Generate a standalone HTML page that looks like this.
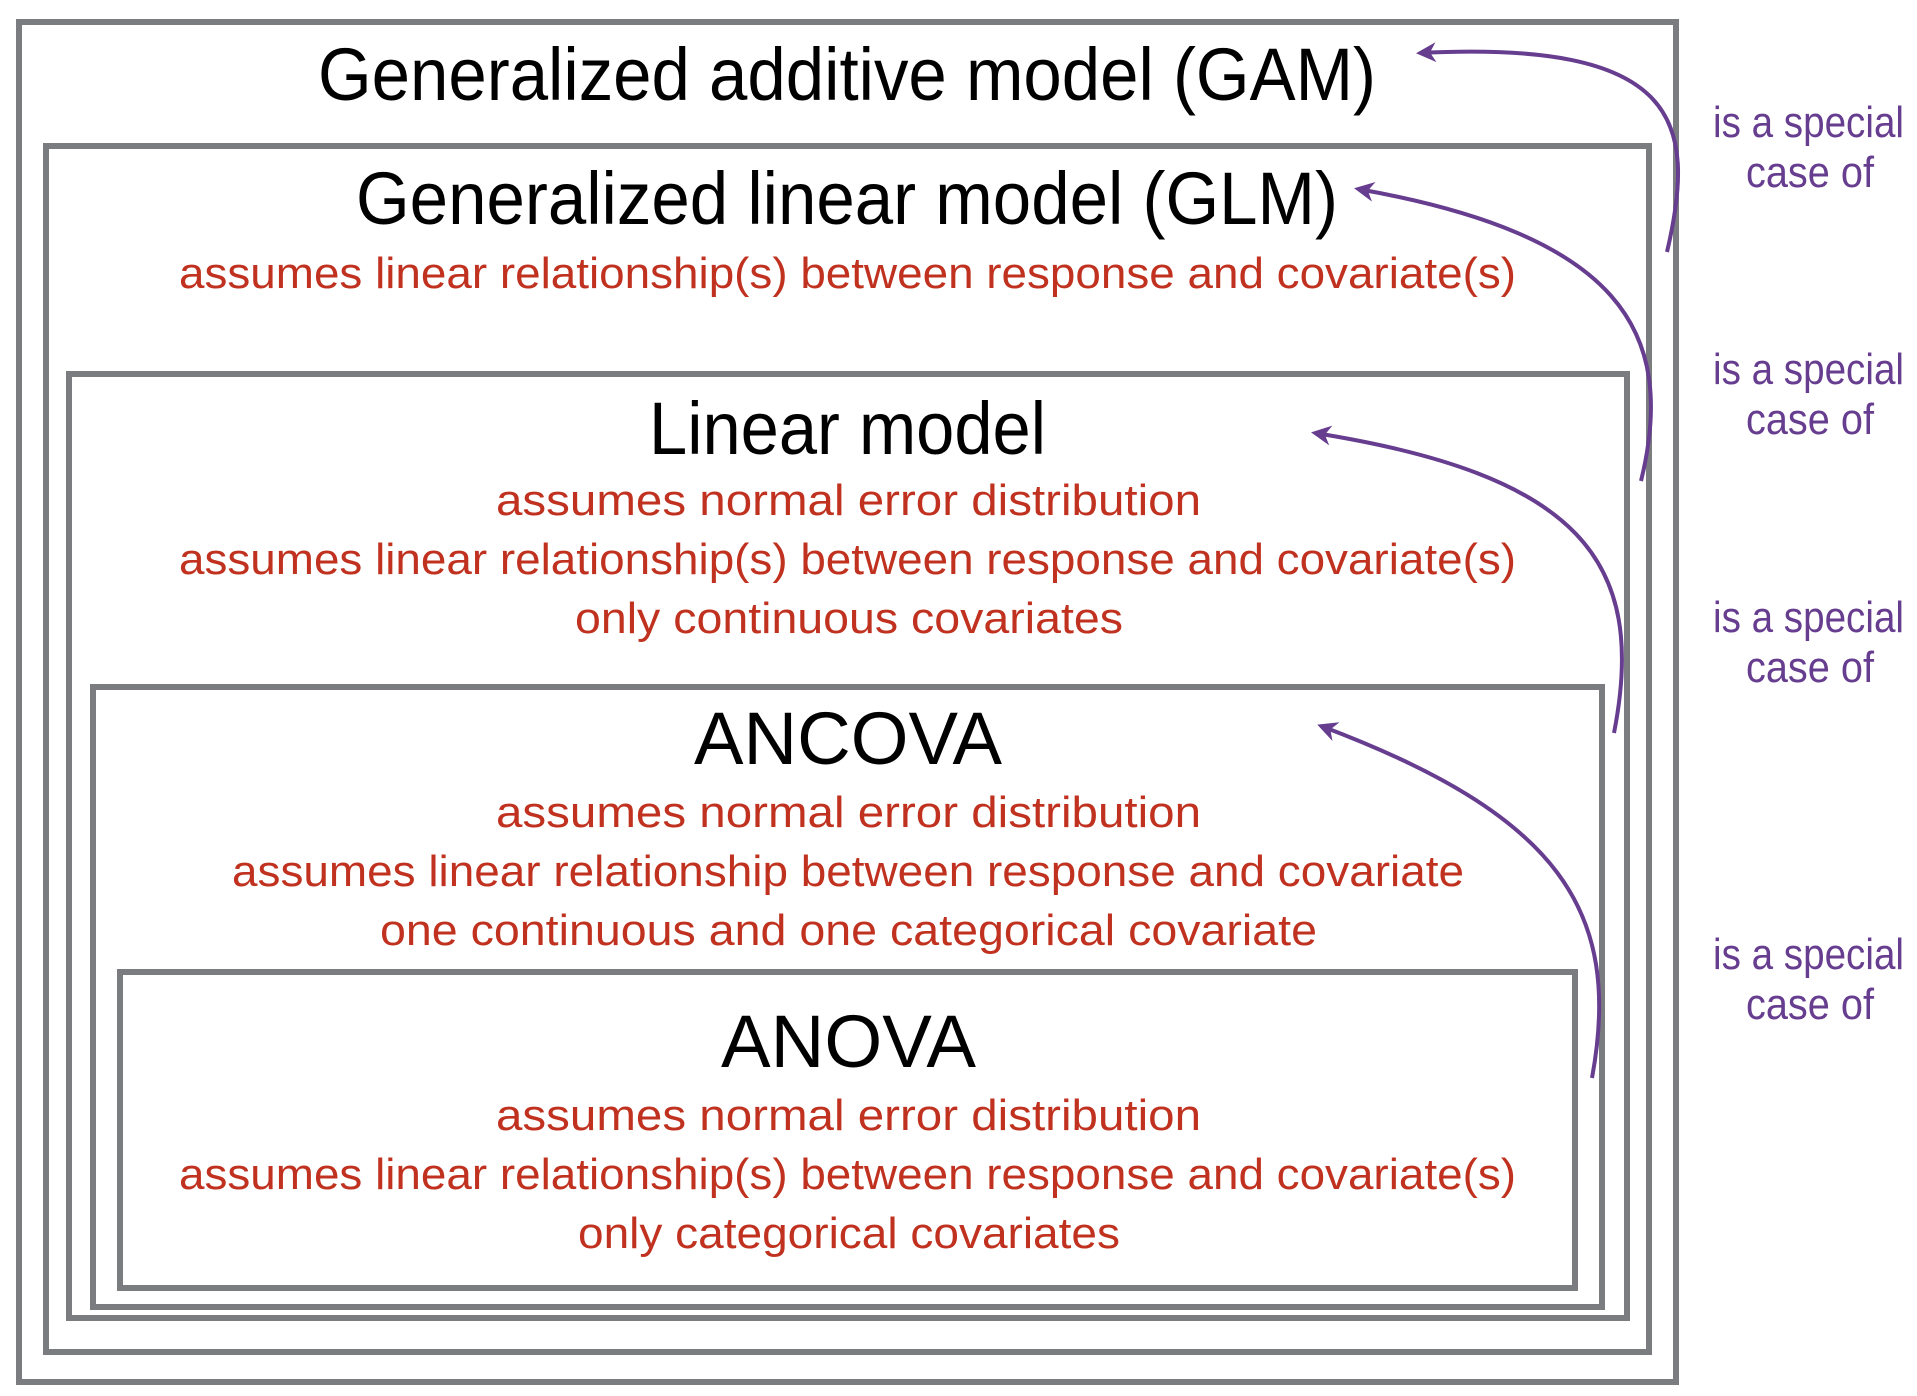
<!DOCTYPE html>
<html><head><meta charset="utf-8"><style>
html,body{margin:0;padding:0;background:#fff;}
svg{display:block;}
text{font-family:"Liberation Sans",sans-serif;}
.t{fill:#000;font-size:74px;}
.r{fill:#c0321f;font-size:44px;}
.p{fill:#663d8f;font-size:44px;}
</style></head><body>
<svg width="1917" height="1396" viewBox="0 0 1917 1396" xmlns="http://www.w3.org/2000/svg">
<defs>
<marker id="a" viewBox="0 0 10 10" refX="8" refY="5" markerWidth="5" markerHeight="5" orient="auto" markerUnits="strokeWidth">
<path d="M0 0 L10 5 L0 10 L3 5 Z" fill="#663d8f"/></marker>
</defs>
<g fill="none" stroke="#7a7c80" stroke-width="6">
<rect x="19" y="22" width="1657" height="1360"/>
<rect x="46" y="146" width="1603" height="1206"/>
<rect x="69" y="374" width="1558" height="944"/>
<rect x="93" y="687" width="1509" height="620"/>
<rect x="120" y="972" width="1455" height="316"/>
</g>
<text class="t" x="318" y="100" textLength="1058" lengthAdjust="spacingAndGlyphs">Generalized additive model (GAM)</text>
<text class="t" x="356" y="224" textLength="982" lengthAdjust="spacingAndGlyphs">Generalized linear model (GLM)</text>
<text class="r" x="179" y="288" textLength="1337" lengthAdjust="spacingAndGlyphs">assumes linear relationship(s) between response and covariate(s)</text>
<text class="t" x="649" y="454" textLength="397" lengthAdjust="spacingAndGlyphs">Linear model</text>
<text class="r" x="496" y="515" textLength="705" lengthAdjust="spacingAndGlyphs">assumes normal error distribution</text>
<text class="r" x="179" y="574" textLength="1337" lengthAdjust="spacingAndGlyphs">assumes linear relationship(s) between response and covariate(s)</text>
<text class="r" x="575" y="633" textLength="548" lengthAdjust="spacingAndGlyphs">only continuous covariates</text>
<text class="t" x="694" y="764" textLength="308" lengthAdjust="spacingAndGlyphs">ANCOVA</text>
<text class="r" x="496" y="827" textLength="705" lengthAdjust="spacingAndGlyphs">assumes normal error distribution</text>
<text class="r" x="232" y="886" textLength="1232" lengthAdjust="spacingAndGlyphs">assumes linear relationship between response and covariate</text>
<text class="r" x="380" y="945" textLength="937" lengthAdjust="spacingAndGlyphs">one continuous and one categorical covariate</text>
<text class="t" x="721" y="1067" textLength="255" lengthAdjust="spacingAndGlyphs">ANOVA</text>
<text class="r" x="496" y="1130" textLength="705" lengthAdjust="spacingAndGlyphs">assumes normal error distribution</text>
<text class="r" x="179" y="1189" textLength="1337" lengthAdjust="spacingAndGlyphs">assumes linear relationship(s) between response and covariate(s)</text>
<text class="r" x="578" y="1248" textLength="542" lengthAdjust="spacingAndGlyphs">only categorical covariates</text>
<text class="p" x="1713" y="137" textLength="191" lengthAdjust="spacingAndGlyphs">is a special</text>
<text class="p" x="1746" y="187" textLength="128" lengthAdjust="spacingAndGlyphs">case of</text>
<text class="p" x="1713" y="384" textLength="191" lengthAdjust="spacingAndGlyphs">is a special</text>
<text class="p" x="1746" y="434" textLength="128" lengthAdjust="spacingAndGlyphs">case of</text>
<text class="p" x="1713" y="632" textLength="191" lengthAdjust="spacingAndGlyphs">is a special</text>
<text class="p" x="1746" y="682" textLength="128" lengthAdjust="spacingAndGlyphs">case of</text>
<text class="p" x="1713" y="969" textLength="191" lengthAdjust="spacingAndGlyphs">is a special</text>
<text class="p" x="1746" y="1019" textLength="128" lengthAdjust="spacingAndGlyphs">case of</text>
<g fill="none" stroke="#663d8f" stroke-width="4" marker-end="url(#a)">
<path d="M1667 252 C1698 120 1678 40 1420 53"/>
<path d="M1641 481 C1678 330 1618 235 1358 189"/>
<path d="M1614 733 C1648 560 1578 475 1315 433"/>
<path d="M1592 1078 C1623 910 1558 815 1321 726"/>
</g>
</svg>
</body></html>
